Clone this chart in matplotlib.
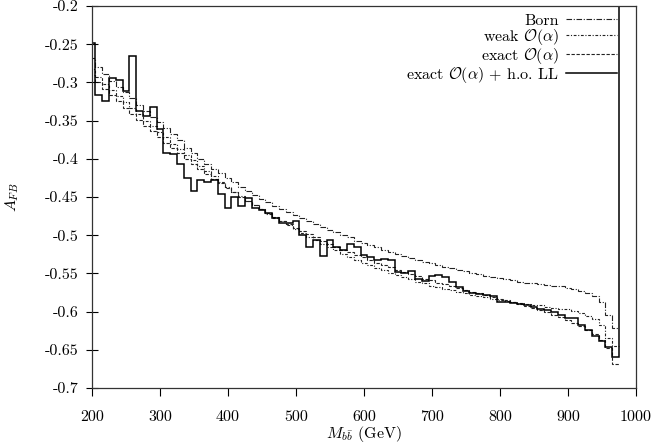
import matplotlib
matplotlib.use("Agg")
import matplotlib.pyplot as plt
import numpy as np

plt.rcParams['font.family'] = ['cmr10', 'DejaVu Serif']
plt.rcParams['mathtext.fontset'] = 'cm'
plt.rcParams['axes.unicode_minus'] = False

# bin centres 200..970 GeV (10 GeV bins), last solid bin jumps off the plot
mass = list(range(200, 980, 10))

born = [-0.268, -0.280, -0.289, -0.298, -0.306, -0.313, -0.321, -0.330, -0.337, -0.345,
        -0.352, -0.360, -0.368, -0.376, -0.386, -0.393, -0.400, -0.407, -0.413, -0.419,
        -0.425, -0.431, -0.437, -0.442, -0.447, -0.452, -0.457, -0.462, -0.466, -0.470,
        -0.474, -0.478, -0.482, -0.486, -0.489, -0.493, -0.496, -0.500, -0.503, -0.507,
        -0.510, -0.513, -0.516, -0.519, -0.522, -0.524, -0.527, -0.530, -0.532, -0.535,
        -0.537, -0.539, -0.541, -0.543, -0.545, -0.547, -0.549, -0.551, -0.553, -0.555,
        -0.556, -0.558, -0.559, -0.561, -0.562, -0.563, -0.564, -0.565, -0.566, -0.567,
        -0.569, -0.570, -0.573, -0.576, -0.580, -0.587, -0.604, -0.622]

weak = [-0.283, -0.293, -0.302, -0.310, -0.318, -0.326, -0.334, -0.342, -0.350, -0.357,
        -0.365, -0.372, -0.380, -0.387, -0.395, -0.402, -0.409, -0.416, -0.423, -0.430,
        -0.437, -0.443, -0.449, -0.455, -0.461, -0.466, -0.472, -0.477, -0.482, -0.487,
        -0.492, -0.497, -0.502, -0.506, -0.511, -0.516, -0.520, -0.524, -0.528, -0.532,
        -0.536, -0.539, -0.543, -0.546, -0.549, -0.552, -0.555, -0.558, -0.561, -0.563,
        -0.566, -0.568, -0.570, -0.572, -0.574, -0.576, -0.578, -0.580, -0.581, -0.583,
        -0.585, -0.586, -0.588, -0.589, -0.590, -0.591, -0.592, -0.594, -0.595, -0.596,
        -0.597, -0.599, -0.602, -0.606, -0.610, -0.617, -0.635, -0.645]

exact = [-0.290, -0.300, -0.309, -0.317, -0.325, -0.333, -0.341, -0.349, -0.357, -0.364,
         -0.372, -0.379, -0.386, -0.393, -0.400, -0.407, -0.414, -0.420, -0.426, -0.432,
         -0.438, -0.444, -0.450, -0.455, -0.461, -0.466, -0.471, -0.476, -0.481, -0.486,
         -0.490, -0.495, -0.499, -0.503, -0.507, -0.511, -0.515, -0.519, -0.522, -0.526,
         -0.529, -0.533, -0.536, -0.539, -0.542, -0.545, -0.548, -0.551, -0.554, -0.557,
         -0.559, -0.562, -0.564, -0.567, -0.569, -0.572, -0.574, -0.576, -0.578, -0.581,
         -0.583, -0.585, -0.588, -0.590, -0.593, -0.595, -0.598, -0.601, -0.604, -0.607,
         -0.611, -0.615, -0.619, -0.624, -0.630, -0.637, -0.648, -0.668]

exact_ll = [-0.248, -0.317, -0.324, -0.294, -0.297, -0.311, -0.266, -0.338, -0.344, -0.332,
            -0.361, -0.392, -0.394, -0.407, -0.425, -0.442, -0.428, -0.430, -0.428, -0.446,
            -0.465, -0.450, -0.462, -0.451, -0.465, -0.467, -0.471, -0.478, -0.484, -0.484,
            -0.481, -0.500, -0.516, -0.506, -0.527, -0.506, -0.516, -0.519, -0.512, -0.516,
            -0.526, -0.528, -0.532, -0.531, -0.532, -0.548, -0.549, -0.547, -0.557, -0.560,
            -0.554, -0.552, -0.555, -0.561, -0.568, -0.573, -0.576, -0.577, -0.578, -0.580,
            -0.587, -0.588, -0.589, -0.590, -0.592, -0.594, -0.596, -0.598, -0.600, -0.605,
            -0.608, -0.608, -0.617, -0.624, -0.632, -0.639, -0.646, -0.659, 0.0]

labels = ["Born", r"weak $\mathcal{O}(\alpha)$", r"exact $\mathcal{O}(\alpha)$",
          r"exact $\mathcal{O}(\alpha)$ + h.o. LL"]

xticks = [200, 300, 400, 500, 600, 700, 800, 900, 1000]
yticks = [-0.7, -0.65, -0.6, -0.55, -0.5, -0.45, -0.4, -0.35, -0.3, -0.25, -0.2]
ytick_labels = ["-0.7", "-0.65", "-0.6", "-0.55", "-0.5", "-0.45", "-0.4", "-0.35",
                "-0.3", "-0.25", "-0.2"]


def edges_for(n):
    lo = mass[0] - 5
    return np.arange(lo, lo + 10 * n + 1, 10)


fig = plt.figure(figsize=(6.54, 4.43), dpi=100)
ax = fig.add_axes([0.1407, 0.1242, 0.8318, 0.8623])

ax.stairs(born, edges_for(len(born)), baseline=None, color='#222222', lw=0.8,
          linestyle=(0, (5, 1.5, 1, 1.5)), label=labels[0])
ax.stairs(weak, edges_for(len(weak)), baseline=None, color='#222222', lw=0.8,
          linestyle=(0, (2.5, 1.5, 1, 1.5)), label=labels[1])
ax.stairs(exact, edges_for(len(exact)), baseline=None, color='#222222', lw=0.8,
          linestyle=(0, (3, 1.5)), label=labels[2])
ax.stairs(exact_ll, edges_for(len(exact_ll)), baseline=None, color='black', lw=1.1,
          label=labels[3])

ax.set_xlim(200, 1000)
ax.set_ylim(-0.7, -0.2)
ax.set_xticks(xticks)
ax.set_xticklabels([str(t) for t in xticks])
ax.set_yticks(yticks)
ax.set_yticklabels(ytick_labels)
ax.tick_params(axis='x', direction='out', length=6, width=0.8, pad=10, labelsize=11.5)
ax.tick_params(axis='y', direction='inout', length=9, width=0.8, pad=5, labelsize=11.5)
for s in ax.spines.values():
    s.set_linewidth(0.9)
    s.set_color('#333333')

ax.set_xlabel(r"$M_{b\bar{b}}$ (GeV)", fontsize=11.5)
ax.xaxis.set_label_coords(0.5, -0.095)
ax.set_ylabel(r"$A_{FB}$", fontsize=11.5)
ax.yaxis.set_label_coords(-0.13, 0.5)

ax.legend(loc='upper right', bbox_to_anchor=(0.974, 0.993), frameon=False,
          markerfirst=False, fontsize=11.5, handlelength=3.2, handletextpad=0.45,
          labelspacing=-0.06, borderaxespad=0.0, borderpad=0.3)

fig.savefig("out.png", dpi=100)
